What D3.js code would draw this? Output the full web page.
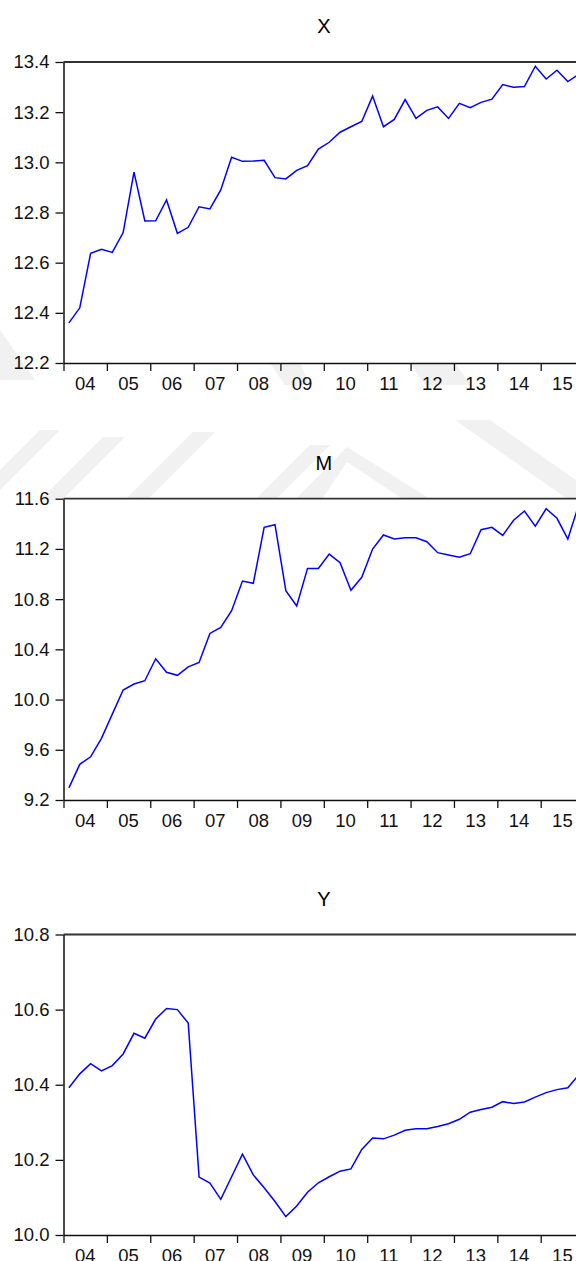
<!DOCTYPE html>
<html>
<head>
<meta charset="utf-8">
<script src="https://cdn.jsdelivr.net/npm/d3@7"></script>
<style>
  body { margin: 0; background: #fff; }
  svg { display: block; font-family: "Liberation Sans", Arial, sans-serif; }
</style>
</head>
<body>
<div id="chart"></div>
<script>
const width = 576;
const height = 1261;

// quarterly series, 2004Q1 .. 2015Q4
const yearLabels = ["04", "05", "06", "07", "08", "09", "10", "11", "12", "13", "14", "15"];

const xValues = [12.36, 12.42, 12.637, 12.653, 12.641, 12.72, 12.961, 12.766,
    12.767, 12.85, 12.717, 12.741, 12.823, 12.814, 12.89, 13.02,
    13.004, 13.005, 13.008, 12.939, 12.934, 12.968, 12.987, 13.053,
    13.08, 13.12, 13.142, 13.163, 13.264, 13.142, 13.171, 13.25,
    13.175, 13.207, 13.221, 13.175, 13.235, 13.218, 13.239, 13.252,
    13.31, 13.299, 13.302, 13.383, 13.332, 13.367, 13.322, 13.351];

const mValues = [9.297, 9.484, 9.544, 9.691, 9.884, 10.076, 10.124, 10.15,
    10.325, 10.217, 10.193, 10.261, 10.296, 10.527, 10.575, 10.708,
    10.944, 10.926, 11.372, 11.393, 10.867, 10.745, 11.045, 11.045,
    11.159, 11.09, 10.87, 10.974, 11.199, 11.311, 11.279, 11.289,
    11.289, 11.257, 11.17, 11.151, 11.133, 11.162, 11.353, 11.372,
    11.308, 11.428, 11.502, 11.382, 11.52, 11.444, 11.279, 11.55];

const yValues = [10.392, 10.429, 10.456, 10.437, 10.451, 10.482, 10.537, 10.524,
    10.575, 10.603, 10.6, 10.564, 10.154, 10.138, 10.095, 10.155,
    10.215, 10.16, 10.126, 10.089, 10.049, 10.077, 10.114, 10.139,
    10.155, 10.17, 10.176, 10.228, 10.258, 10.256, 10.266, 10.279,
    10.283, 10.283, 10.289, 10.296, 10.308, 10.327, 10.334, 10.34,
    10.355, 10.35, 10.354, 10.367, 10.379, 10.387, 10.392, 10.426];

const xTicks = [12.2, 12.4, 12.6, 12.8, 13.0, 13.2, 13.4];
const mTicks = [9.2, 9.6, 10.0, 10.4, 10.8, 11.2, 11.6];
const yTicks = [10.0, 10.2, 10.4, 10.6, 10.8];

var svg = d3.select("#chart")
    .append("svg")
    .attr("width", width)
    .attr("height", height);

// faint background watermark (mostly hidden behind the white plot frames)
var wm = svg.append("g").attr("fill", "#f1f1f1");
[
    "M0,470 L0,490 L60,430 L40,430 Z",
    "M40,500 L62,500 L125,437 L103,437 Z",
    "M125,500 L147,500 L215,432 L193,432 Z",
    "M255,500 L275,500 L330,445 L310,445 Z",
    "M290,505 L347,447 L440,505 L412,505 L347,462 L318,505 Z",
    "M455,420 L490,420 L576,480 L576,505 Z",
    "M0,330 L0,380 L35,380 Z",
    "M270,363 L300,363 L310,385 L285,385 Z",
    "M410,363 L455,363 L470,385 L425,385 Z"
].forEach(d => wm.append("path").attr("d", d));

const x = d3.scaleLinear()
    .domain([2004, 2016])
    .range([63.5, 584.1]);

function drawPanel(title, values, ticks, top, bottom) {
    const y = d3.scaleLinear()
        .domain([ticks[0], ticks[ticks.length - 1]])
        .range([bottom, top]);

    const g = svg.append("g");

    // white plot area
    g.append("rect")
        .attr("x", x(2004))
        .attr("y", top)
        .attr("width", x(2016) - x(2004))
        .attr("height", bottom - top)
        .attr("fill", "#fff");

    g.append("text")
        .attr("x", (x(2004) + x(2016)) / 2)
        .attr("y", top - 29)
        .attr("text-anchor", "middle")
        .style("font-size", "20px")
        .text(title);

    // top border
    g.append("line")
        .attr("x1", x(2004)).attr("x2", x(2016))
        .attr("y1", top).attr("y2", top)
        .attr("stroke", "#333")
        .attr("stroke-width", 1.8);

    const yAxis = g.append("g")
        .attr("transform", `translate(${x(2004)},0)`)
        .call(d3.axisLeft(y).tickValues(ticks).tickFormat(d3.format(".1f"))
            .tickSize(8).tickSizeOuter(0).tickPadding(6));
    yAxis.select(".domain").attr("stroke", "#111").attr("stroke-width", 1.5);
    yAxis.selectAll(".tick line").attr("stroke", "#111").attr("stroke-width", 1.3);
    yAxis.selectAll("text")
        .style("font-size", "18.5px")
        .style("font-family", "Liberation Sans, Arial, sans-serif")
        .attr("fill", "#111");

    const years = d3.range(2004, 2016);
    const xAxis = g.append("g")
        .attr("transform", `translate(0,${bottom})`)
        .call(d3.axisBottom(x).tickValues(years).tickFormat("")
            .tickSize(8).tickSizeOuter(0));
    xAxis.select(".domain").attr("stroke", "#111").attr("stroke-width", 1.5);
    xAxis.selectAll(".tick line").attr("stroke", "#111").attr("stroke-width", 1.3);

    g.selectAll(".yearlab")
        .data(yearLabels)
        .join("text")
        .attr("class", "yearlab")
        .attr("x", (d, i) => x(2004 + i + 0.5))
        .attr("y", bottom + 26.5)
        .attr("text-anchor", "middle")
        .style("font-size", "18.5px")
        .attr("fill", "#111")
        .text(d => d);

    const line = d3.line()
        .x((d, i) => x(2004 + (i + 0.5) / 4))
        .y(d => y(d));

    g.append("path")
        .datum(values)
        .attr("d", line)
        .attr("fill", "none")
        .attr("stroke", "#0000ff")
        .attr("stroke-width", 1.5);
}

drawPanel("X", xValues, xTicks, 62, 363);
drawPanel("M", mValues, mTicks, 498.7, 800);
drawPanel("Y", yValues, yTicks, 934.5, 1235);
</script>
</body>
</html>
